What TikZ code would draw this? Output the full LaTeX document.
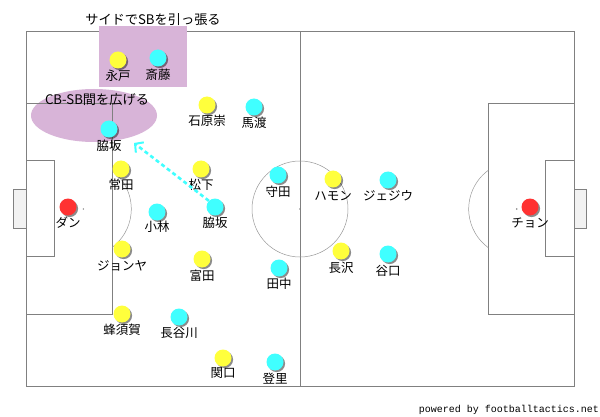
\documentclass[tikz,border=0pt]{standalone}
\usepackage{fontspec}
\setmainfont{Noto Sans CJK JP}
\setmonofont{Liberation Mono}
\usetikzlibrary{arrows.meta,shadows}
\definecolor{plum}{RGB}{216,180,216}
\definecolor{pyel}{RGB}{255,255,60}
\definecolor{pcyan}{RGB}{64,255,255}
\definecolor{pred}{RGB}{255,50,50}
\definecolor{lgray}{RGB}{128,128,128}
\begin{document}
\begin{tikzpicture}[x=1pt,y=-1pt,
  fieldline/.style={draw=lgray, line width=0.9pt},
  thinline/.style={draw=lgray!80, line width=0.5pt},
  player/.style={circle, minimum size=17pt, inner sep=0pt,
     drop shadow={shadow xshift=1.6pt, shadow yshift=-1.6pt, opacity=0.45, fill=black}},
  yp/.style={player, fill=pyel},
  cp/.style={player, fill=pcyan},
  rp/.style={player, fill=pred},
  lab/.style={font=\fontsize{12.5}{13}\selectfont, inner sep=0pt, text=black},
  note/.style={font=\fontsize{13.2}{14}\selectfont, inner sep=0pt, text=black},
  runarrow/.style={draw=pcyan, line width=2.6pt, dash pattern=on 4pt off 3pt,
     -{Straight Barb[length=6pt,width=13pt,line width=2pt]}}
]
\useasboundingbox (0,0) rectangle (600,417);
\fill[white] (0,0) rectangle (600,417);

% ellipse annotation (under lines)
\fill[plum] (94,115.5) ellipse [x radius=63, y radius=26.5];

% field
\draw[fieldline] (26.7,31.7) rectangle (574.3,386);
\draw[fieldline] (300,31.7) -- (300,386);
\draw[thinline] (300,209) circle [radius=48];
\fill[lgray] (300,209) circle [radius=0.8];
% left side
\draw[fieldline] (26.7,103.3) rectangle (112.3,314.3);
\draw[fieldline] (26.7,160.3) rectangle (54.3,256.3);
\filldraw[fill=gray!10, draw=lgray, line width=0.9pt] (13.3,189.3) rectangle (26.7,228.3);
\fill[lgray] (83.3,209) circle [radius=0.8];
\draw[thinline] (112.3,{209-sqrt(48^2-29^2)}) arc [start angle={-acos(29/48)}, end angle={acos(29/48)}, radius=48];
% right side
\draw[fieldline] (488.3,103.3) rectangle (574.3,314.3);
\draw[fieldline] (545.3,160.3) rectangle (574.3,256.3);
\filldraw[fill=gray!10, draw=lgray, line width=0.9pt] (574.3,189.3) rectangle (586.3,228.3);
\fill[lgray] (516.7,209) circle [radius=0.8];
\draw[thinline] (488.3,{209-sqrt(48^2-28.4^2)}) arc [start angle={180+acos(28.4/48)}, end angle={180-acos(28.4/48)}, radius=48];

% rectangle annotation (over lines)
\fill[plum] (99,26) rectangle (187,87);
\node[note] (t1) at (153,20) {サイドでSBを引っ張る};
\node[note] (t2) at (97,100) {CB-SB間を広げる};

% players
\node[yp] (p1) at (118,60) {};   \node[lab] (l1) at (118,76) {永戸};
\node[cp] (p2) at (158,58) {};   \node[lab] (l2) at (158,75) {斎藤};
\node[yp] (p3) at (207,105) {};  \node[lab] (l3) at (207,121) {石原崇};
\node[cp] (p4) at (254,107) {};  \node[lab] (l4) at (254,123) {馬渡};
\node[cp] (p5) at (109,129) {};  \node[lab] (l5) at (109,146) {脇坂};
\node[yp] (p6) at (121,169) {};  \node[lab] (l6) at (121,185) {常田};
\node[yp] (p7) at (201,169) {};  \node[lab] (l7) at (201,185) {松下};
\node[cp] (p8) at (278,175) {};  \node[lab] (l8) at (278,192) {守田};
\node[rp] (p9) at (68,207) {};   \node[lab] (l9) at (68,223) {ダン};
\node[cp] (p10) at (157,212) {}; \node[lab] (l10) at (157,227) {小林};
\node[cp] (p11) at (215,207) {}; \node[lab] (l11) at (215,223) {脇坂};
\node[yp] (p12) at (122,249) {}; \node[lab] (l12) at (122,266) {ジョンヤ};
\node[yp] (p13) at (202,259) {}; \node[lab] (l13) at (202,276) {富田};
\node[cp] (p14) at (279,268) {}; \node[lab] (l14) at (279,284) {田中};
\node[yp] (p15) at (122,314) {}; \node[lab] (l15) at (122,330) {蜂須賀};
\node[cp] (p16) at (179,317) {}; \node[lab] (l16) at (179,333) {長谷川};
\node[yp] (p17) at (223,358) {}; \node[lab] (l17) at (223,373) {関口};
\node[cp] (p18) at (275,362) {}; \node[lab] (l18) at (275,379) {登里};
\node[yp] (p19) at (333,179) {}; \node[lab] (l19) at (333,196) {ハモン};
\node[cp] (p20) at (388,180) {}; \node[lab] (l20) at (388,196) {ジェジウ};
\node[rp] (p21) at (530,207) {}; \node[lab] (l21) at (530,223) {チョン};
\node[yp] (p22) at (341,251) {}; \node[lab] (l22) at (341,268) {長沢};
\node[cp] (p23) at (388,254) {}; \node[lab] (l23) at (388,271) {谷口};

% run arrow
\coordinate (atip) at (134,143);
\draw[runarrow] (p11.north west) -- (atip);

% footer
\node[font=\ttfamily\fontsize{10}{11}\selectfont, anchor=east, inner sep=0pt] (foot) at (599,410) {powered by footballtactics.net};
\end{tikzpicture}
\end{document}
